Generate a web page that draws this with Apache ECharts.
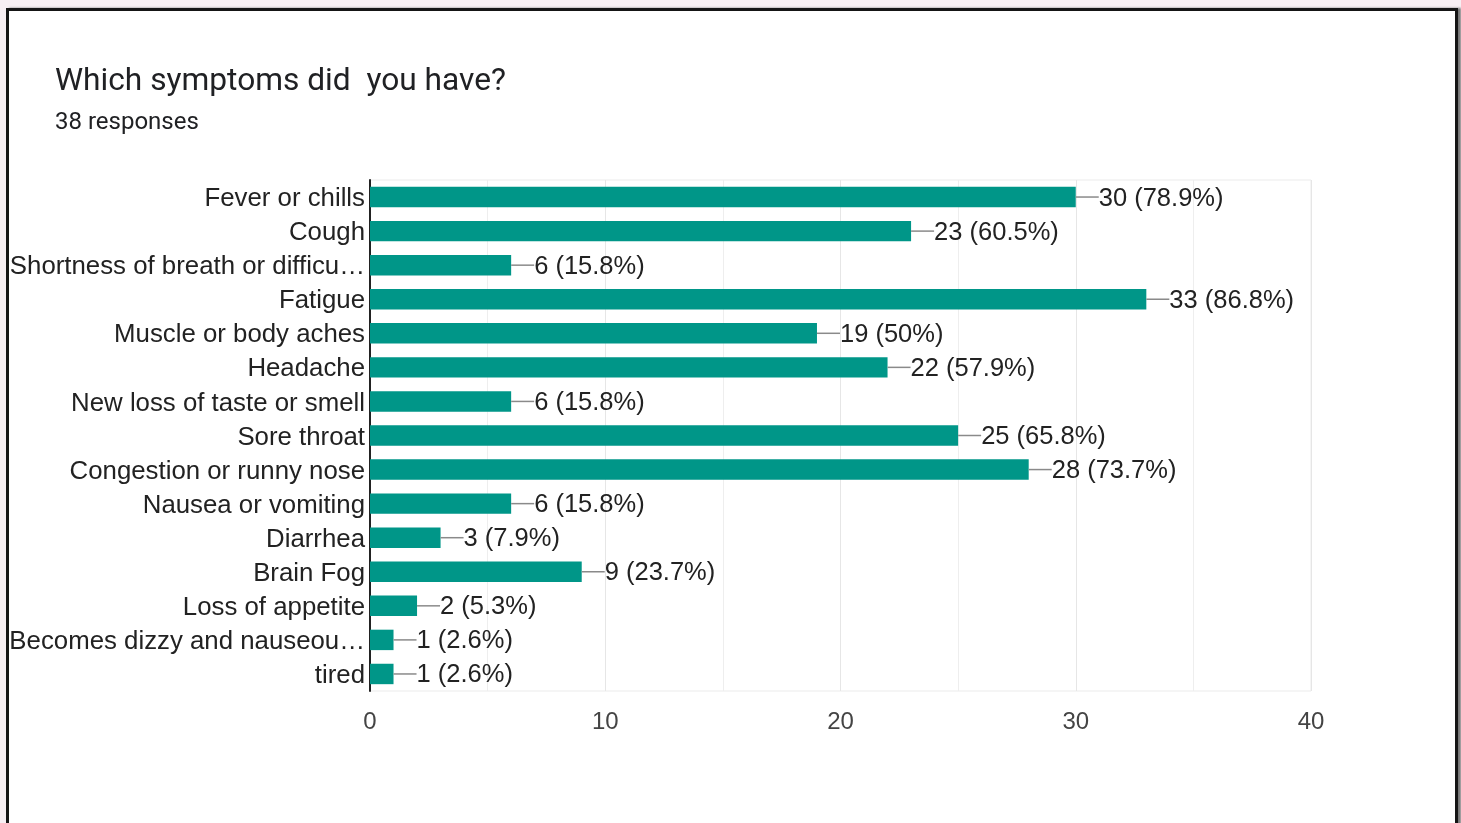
<!DOCTYPE html>
<html>
<head>
<meta charset="utf-8">
<script src="https://cdn.jsdelivr.net/npm/echarts@6/dist/echarts.min.js"></script>
<style>
  html, body { margin: 0; padding: 0; background: #f7eff3; overflow: hidden; }
  #frame {
    position: absolute; left: 6px; top: 8px; width: 1446px; height: 830px;
    background: #fff; border: 3px solid #151515;
    box-shadow: 3px 0 2px #777;
  }
  #chart { position: absolute; left: 0; top: 0; width: 1461px; height: 823px; }
</style>
</head>
<body>
<div id="frame"></div>
<div id="chart"></div>
<script>
// survey answers, top to bottom
const symptoms = [
  'Fever or chills', 'Cough', 'Shortness of breath or difficu\u2026', 'Fatigue',
  'Muscle or body aches', 'Headache', 'New loss of taste or smell', 'Sore throat',
  'Congestion or runny nose', 'Nausea or vomiting', 'Diarrhea', 'Brain Fog',
  'Loss of appetite', 'Becomes dizzy and nauseou\u2026', 'tired'
];
const counts = [30, 23, 6, 33, 19, 22, 6, 25, 28, 6, 3, 9, 2, 1, 1];
const percents = ['78.9%', '60.5%', '15.8%', '86.8%', '50%', '57.9%', '15.8%', '65.8%',
  '73.7%', '15.8%', '7.9%', '23.7%', '5.3%', '2.6%', '2.6%'];
const totalResponses = 38;

const chart = echarts.init(document.getElementById('chart'));

const option = {
  animation: false,
  title: [
    {
      text: 'Which symptoms did  you have?',
      left: 55, top: 66, padding: 0,
      textStyle: { fontFamily: 'Roboto', fontSize: 31.7, fontWeight: 'normal', color: '#202124' }
    },
    {
      text: totalResponses + ' responses',
      left: 55, top: 111, padding: 0,
      textStyle: { fontFamily: 'Roboto', fontSize: 24, fontWeight: 'normal', color: '#202124' }
    }
  ],
  grid: { left: 370, right: 150, top: 180, bottom: 132, show: true, borderColor: '#ebebeb', borderWidth: 1 },
  xAxis: {
    type: 'value',
    min: 0, max: 40, interval: 10,
    axisLine: { show: false },
    axisTick: { show: false },
    axisLabel: { fontFamily: 'Liberation Sans', fontSize: 24, color: '#444', margin: 19 },
    splitLine: { lineStyle: { color: '#e6e6e6' } },
    minorSplitLine: { show: true, lineStyle: { color: '#eeeeee' } },
    minorTick: { show: false, splitNumber: 2 }
  },
  yAxis: {
    type: 'category',
    inverse: true,
    data: symptoms,
    axisLine: { lineStyle: { color: '#222', width: 2 } },
    axisTick: { show: false },
    axisLabel: {
      margin: 5,
      formatter: v => '{c|' + v + '}',
      rich: {
        c: { fontFamily: 'Liberation Sans', fontSize: 25.8, color: '#222', padding: [4, 0, 0, 0] }
      }
    }
  },
  series: [{
    type: 'bar',
    data: counts,
    barWidth: '60%',
    itemStyle: { color: '#009688' },
    label: {
      show: true,
      position: 'right',
      distance: 0,
      formatter: p => '{l| }{v|' + p.value + ' (' + percents[p.dataIndex] + ')}',
      rich: {
        l: { width: 23, height: 1.5, backgroundColor: '#8a8a8a' },
        v: { fontFamily: 'Liberation Sans', fontSize: 25.5, color: '#222', padding: [3, 0, 0, 0] }
      }
    }
  }]
};

chart.setOption(option);
</script>
</body>
</html>
